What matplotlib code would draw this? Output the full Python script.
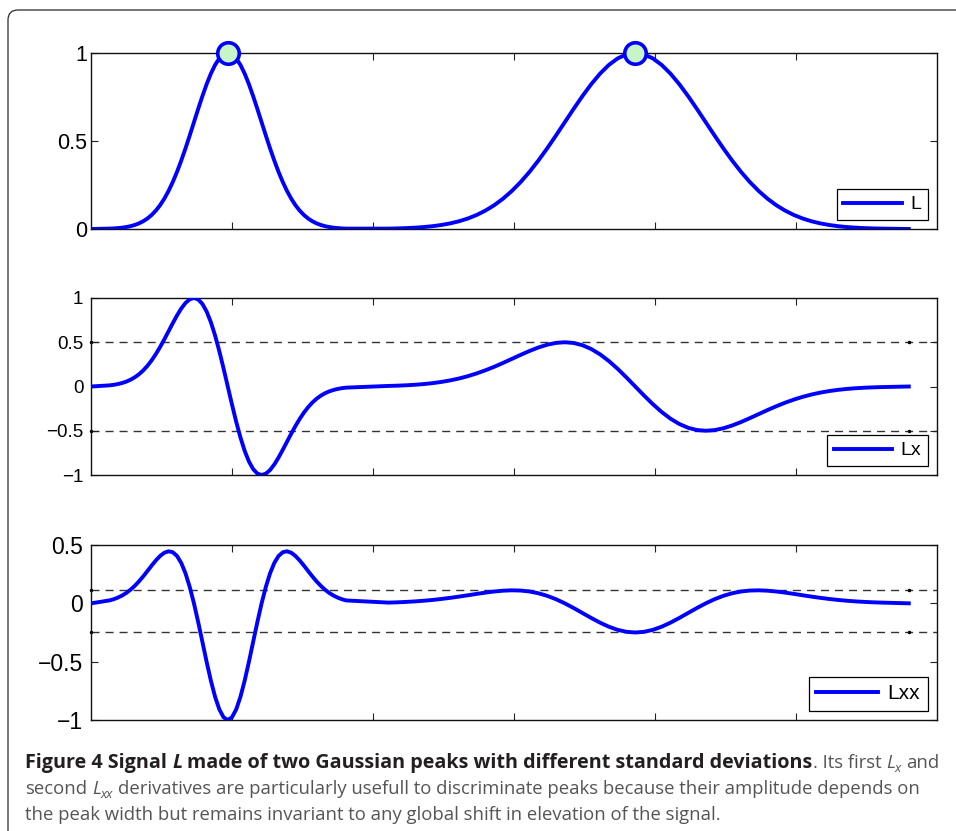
import matplotlib
matplotlib.use("Agg")
import matplotlib.pyplot as plt
from matplotlib.patches import FancyBboxPatch

W, H = 956, 831
BLUE = (0, 0, 1)

# sample positions along the signal
x = [0.0,
     # first (narrow) peak
     0.13, 0.16, 0.19, 0.22, 0.25, 0.28, 0.31, 0.34, 0.37, 0.40, 0.43, 0.46, 0.49, 0.52,
     0.55, 0.58, 0.61, 0.64, 0.67, 0.70, 0.73, 0.76, 0.79, 0.82, 0.85, 0.88, 0.91, 0.94,
     0.97,
     1.00, 1.03, 1.06, 1.09, 1.12, 1.15, 1.18, 1.21, 1.24, 1.27, 1.30, 1.33, 1.36, 1.39,
     1.42, 1.45, 1.48, 1.51, 1.54, 1.57, 1.60, 1.63, 1.66, 1.69, 1.72, 1.75, 1.78, 1.81,
     # second (wide) peak
     2.11, 2.1725, 2.235, 2.2975, 2.36, 2.4225, 2.485, 2.5475, 2.61, 2.6725, 2.735, 2.7975, 2.86, 2.9225,
     2.985, 3.0475, 3.11, 3.1725, 3.235, 3.2975, 3.36, 3.4225, 3.485, 3.5475, 3.61, 3.6725, 3.735, 3.7975,
     3.86,
     3.9225, 3.985, 4.0475, 4.11, 4.1725, 4.235, 4.2975, 4.36, 4.4225, 4.485, 4.5475, 4.61, 4.6725, 4.735,
     4.7975, 4.86, 4.9225, 4.985, 5.0475, 5.11, 5.1725, 5.235, 5.2975, 5.36, 5.4225, 5.485, 5.5475, 5.61,
     5.8]

L = [0.0,
     0.0022, 0.0034, 0.0051, 0.0076, 0.0111, 0.0160, 0.0228, 0.0319, 0.0439, 0.0596, 0.0796, 0.1046, 0.1353, 0.1724,
     0.2163, 0.2671, 0.3247, 0.3886, 0.4578, 0.5311, 0.6065, 0.6819, 0.7548, 0.8226, 0.8825, 0.9321, 0.9692, 0.9922,
     1.0,
     0.9922, 0.9692, 0.9321, 0.8825, 0.8226, 0.7548, 0.6819, 0.6065, 0.5311, 0.4578, 0.3886, 0.3247, 0.2671, 0.2163,
     0.1724, 0.1353, 0.1046, 0.0796, 0.0596, 0.0439, 0.0319, 0.0228, 0.0160, 0.0111, 0.0076, 0.0051, 0.0034, 0.0022,
     0.0022, 0.0034, 0.0051, 0.0076, 0.0111, 0.0160, 0.0228, 0.0319, 0.0439, 0.0596, 0.0796, 0.1046, 0.1353, 0.1724,
     0.2163, 0.2671, 0.3247, 0.3886, 0.4578, 0.5311, 0.6065, 0.6819, 0.7548, 0.8226, 0.8825, 0.9321, 0.9692, 0.9922,
     1.0,
     0.9922, 0.9692, 0.9321, 0.8825, 0.8226, 0.7548, 0.6819, 0.6065, 0.5311, 0.4578, 0.3886, 0.3247, 0.2671, 0.2163,
     0.1724, 0.1353, 0.1046, 0.0796, 0.0596, 0.0439, 0.0319, 0.0228, 0.0160, 0.0111, 0.0076, 0.0051, 0.0034, 0.0022,
     0.0]

Lx = [0.0,
      0.0127, 0.0187, 0.0273, 0.0391, 0.0549, 0.0760, 0.1034, 0.1380, 0.1810, 0.2333, 0.2953, 0.3664, 0.4462, 0.5330,
      0.6241, 0.7155, 0.8031, 0.8809, 0.9436, 0.9851, 1.0, 0.9838, 0.9334, 0.8476, 0.7276, 0.5763, 0.3995, 0.2045,
      0.0,
      -0.2045, -0.3995, -0.5763, -0.7276, -0.8476, -0.9334, -0.9838, -1.0, -0.9851, -0.9436, -0.8809, -0.8031, -0.7155, -0.6241,
      -0.5330, -0.4462, -0.3664, -0.2953, -0.2333, -0.1810, -0.1380, -0.1034, -0.0760, -0.0549, -0.0391, -0.0273, -0.0187, -0.0127,
      0.0064, 0.0094, 0.0137, 0.0196, 0.0275, 0.0380, 0.0517, 0.0690, 0.0905, 0.1167, 0.1477, 0.1832, 0.2231, 0.2665,
      0.3121, 0.3578, 0.4016, 0.4405, 0.4718, 0.4926, 0.5, 0.4919, 0.4667, 0.4238, 0.3638, 0.2882, 0.1998, 0.1023,
      0.0,
      -0.1023, -0.1998, -0.2882, -0.3638, -0.4238, -0.4667, -0.4919, -0.5, -0.4926, -0.4718, -0.4405, -0.4016, -0.3578, -0.3121,
      -0.2665, -0.2231, -0.1832, -0.1477, -0.1167, -0.0905, -0.0690, -0.0517, -0.0380, -0.0275, -0.0196, -0.0137, -0.0094, -0.0064,
      0.0]

Lxx = [0.0,
       0.0248, 0.0349, 0.0488, 0.0664, 0.0888, 0.1165, 0.1496, 0.1879, 0.2305, 0.2765, 0.3234, 0.3677, 0.4059, 0.4337,
       0.4461, 0.4381, 0.4059, 0.3461, 0.2575, 0.1411, 0.0, -0.1598, -0.3302, -0.5013, -0.6619, -0.8010, -0.9086, -0.9767,
       -1.0,
       -0.9767, -0.9086, -0.8010, -0.6619, -0.5013, -0.3302, -0.1598, 0.0, 0.1411, 0.2575, 0.3461, 0.4059, 0.4381, 0.4461,
       0.4337, 0.4059, 0.3677, 0.3234, 0.2765, 0.2305, 0.1879, 0.1496, 0.1165, 0.0888, 0.0664, 0.0488, 0.0349, 0.0248,
       0.0062, 0.0087, 0.0122, 0.0166, 0.0222, 0.0291, 0.0374, 0.0470, 0.0576, 0.0691, 0.0809, 0.0919, 0.1015, 0.1084,
       0.1115, 0.1095, 0.1015, 0.0865, 0.0644, 0.0353, 0.0, -0.0400, -0.0826, -0.1253, -0.1655, -0.2003, -0.2272, -0.2442,
       -0.25,
       -0.2442, -0.2272, -0.2003, -0.1655, -0.1253, -0.0826, -0.0400, 0.0, 0.0353, 0.0644, 0.0865, 0.1015, 0.1095, 0.1115,
       0.1084, 0.1015, 0.0919, 0.0809, 0.0691, 0.0576, 0.0470, 0.0374, 0.0291, 0.0222, 0.0166, 0.0122, 0.0087, 0.0062,
       0.0]

peak_x = [0.97, 3.86]
peak_y = [1.0, 1.0]

lx_levels = [0.5, -0.5]
lxx_levels = [0.115, -0.25]
level_ends = [0.0, 5.8]

plt.rcParams["font.family"] = ["Liberation Sans", "DejaVu Sans"]

fig = plt.figure(figsize=(W / 100, H / 100), dpi=100)

# frame around the figure
frame = FancyBboxPatch((8, -60), 1100, H - 10 + 60, boxstyle="round,pad=0,rounding_size=10",
                       transform=None, fill=False, edgecolor="#2a2a2a", linewidth=0.9)
fig.patches.append(frame)


def make_axes(top_px, bot_px, label_size, label_pad):
    ax = fig.add_axes([91 / W, 1 - bot_px / H, (937 - 91) / W, (bot_px - top_px) / H])
    ax.set_xlim(0, 6)
    ax.set_xticks([1, 2, 3, 4, 5])
    ax.set_xticklabels([])
    ax.tick_params(direction="in", top=True, right=True, length=5, width=0.8,
                   color="#222222")
    ax.tick_params(axis="y", labelsize=label_size, pad=label_pad)
    for s in ax.spines.values():
        s.set_linewidth(1.0)
        s.set_color("#111111")
    return ax


def dashed_levels(ax, levels):
    for v in levels:
        ax.axhline(v, color="#333333", linewidth=1.0, dashes=(5.8, 4.3), zorder=1)
        ax.plot(level_ends, [v, v], ".", color="k", markersize=3, zorder=2, clip_on=False)


def legend(ax, fs):
    leg = ax.legend(loc="lower right", fontsize=fs, handlelength=3.0, handletextpad=0.45,
                    borderaxespad=0.45, borderpad=0.35, fancybox=False, framealpha=1)
    leg.get_frame().set_edgecolor("black")
    leg.get_frame().set_linewidth(0.9)


ax1 = make_axes(53, 229, 15.5, 3)
ax1.plot(x, L, color=BLUE, linewidth=2.8, label="L", zorder=3)
ax1.plot(peak_x, peak_y, "o", markersize=15.5, markerfacecolor="#c8f5c8",
         markeredgecolor=BLUE, markeredgewidth=2.6, clip_on=False, zorder=5)
ax1.set_ylim(0, 1)
ax1.set_yticks([0, 0.5, 1])
ax1.set_yticklabels(["0", "0.5", "1"])
legend(ax1, 14)

ax2 = make_axes(298, 475, 13.5, 5.5)
dashed_levels(ax2, lx_levels)
ax2.plot(x, Lx, color=BLUE, linewidth=2.8, label="Lx", zorder=3)
ax2.set_ylim(-1, 1)
ax2.set_yticks([-1, -0.5, 0, 0.5, 1])
ax2.set_yticklabels(["\u22121", "\u22120.5", "0", "0.5", "1"])
legend(ax2, 14)

ax3 = make_axes(545, 720, 16.5, 5.5)
dashed_levels(ax3, lxx_levels)
ax3.plot(x, Lxx, color=BLUE, linewidth=2.8, label="Lxx", zorder=3)
ax3.set_ylim(-1, 0.5)
ax3.set_yticks([-1, -0.5, 0, 0.5])
ax3.set_yticklabels(["\u22121", "\u22120.5", "0", "0.5"])
legend(ax3, 15)

# caption, drawn piece by piece
CAP_FONT = ["Open Sans", "DejaVu Sans"]
BOLD_SIZE = 14.25
NORM_SIZE = 13.3
DARK = "#231f20"
GREY = "#555555"
styles = {
    "b": dict(weight="bold", style="normal", color=DARK, size=BOLD_SIZE, dy=0),
    "bi": dict(weight="bold", style="italic", color=DARK, size=BOLD_SIZE, dy=0),
    "n": dict(weight="normal", style="normal", color=GREY, size=NORM_SIZE, dy=0),
    "i": dict(weight="normal", style="italic", color=GREY, size=NORM_SIZE, dy=0),
    "sub": dict(weight="normal", style="italic", color=GREY, size=NORM_SIZE * 0.7, dy=-4),
}

renderer = fig.canvas.get_renderer()


def text_width(s, st):
    t = fig.text(0, 0, s, family=CAP_FONT, weight=st["weight"], style=st["style"], size=st["size"])
    w = t.get_window_extent(renderer).width
    t.remove()
    return w


def draw_caption_line(segs, x0, y0):
    xp = x0
    for s, key in segs:
        st = styles[key]
        sp = text_width("x x", st) - text_width("xx", st)
        core = s.strip(" ")
        lead = len(s) - len(s.lstrip(" "))
        trail = len(s) - len(s.rstrip(" "))
        xp += lead * sp
        t = fig.text(xp / W, (y0 + st["dy"]) / H, core, family=CAP_FONT, weight=st["weight"],
                     style=st["style"], size=st["size"], color=st["color"], va="baseline")
        xp += t.get_window_extent(renderer).width + trail * sp


draw_caption_line([("Figure 4 Signal ", "b"), ("L", "bi"),
                   (" made of two Gaussian peaks with different standard deviations", "b"),
                   (". Its first ", "n"), ("L", "i"), ("x", "sub"), (" and", "n")], 25, H - 768)
draw_caption_line([("second ", "n"), ("L", "i"), ("xx", "sub"),
                   (" derivatives are particularly usefull to discriminate peaks because their amplitude depends on", "n")],
                  25, H - 794)
draw_caption_line([("the peak width but remains invariant to any global shift in elevation of the signal.", "n")],
                  25, H - 820)

fig.savefig("out.png", dpi=100)
